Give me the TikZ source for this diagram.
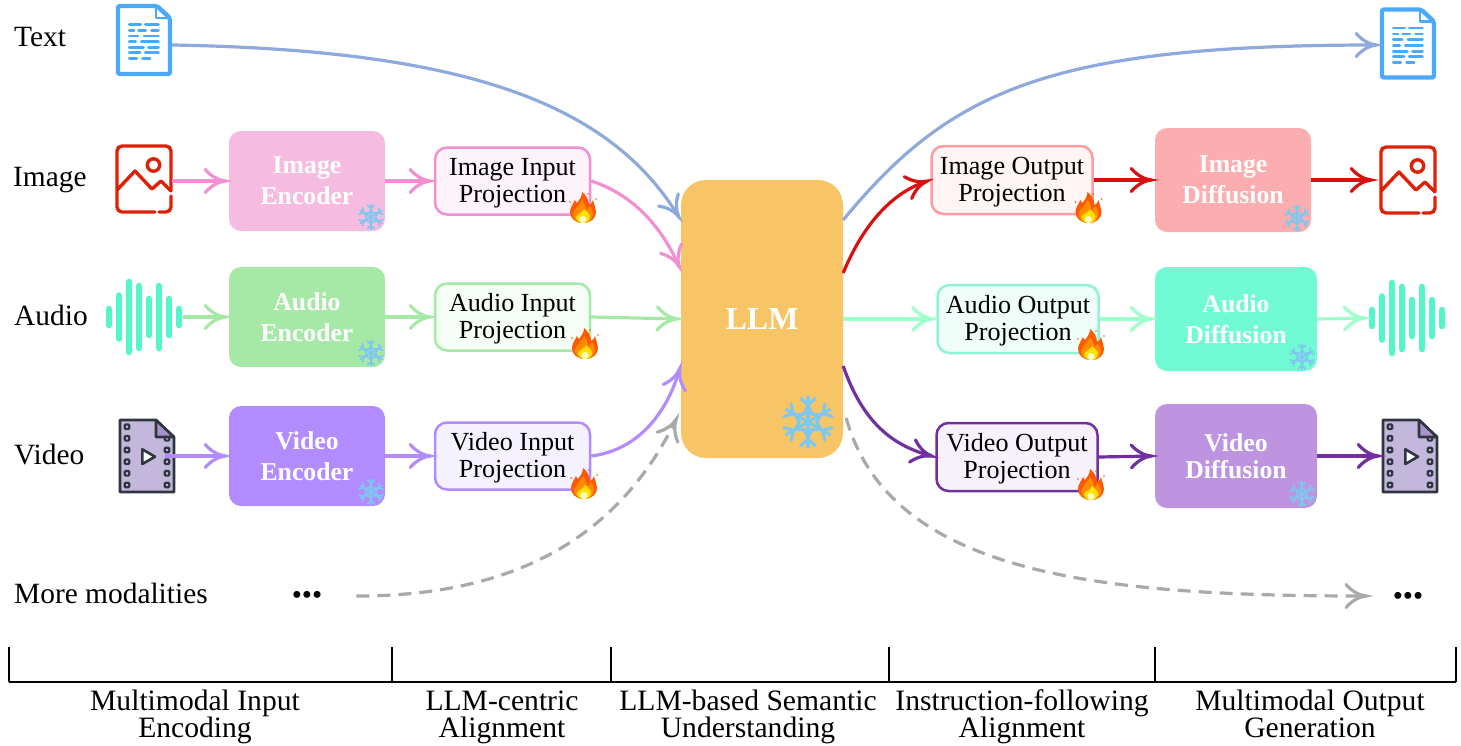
\documentclass[tikz,border=0pt]{standalone}
\usepackage{fontspec}
\setmainfont{Liberation Serif}
\usepackage{tikz}
\usetikzlibrary{arrows.meta}

\pgfdeclarearrow{
    name=HookBarb,
    setup code={
        \pgfarrowssettipend{2.5pt}
        \pgfarrowssetlineend{-2pt}
        \pgfarrowssetvisualtipend{2.5pt}
        \pgfarrowssetbackend{-22pt}
        \pgfarrowssetvisualbackend{-22pt}
        \pgfarrowshullpoint{0pt}{0pt}
        \pgfarrowshullpoint{-22pt}{12pt}
        \pgfarrowshullpoint{-22pt}{-12pt}
    },
    drawing code={
        \pgfsetdash{}{0pt}
        \pgfsetroundcap
        \pgfsetmiterjoin
        \pgfpathmoveto{\pgfpoint{-21pt}{11.5pt}}
        \pgfpathcurveto{\pgfpoint{-15pt}{4.5pt}}{\pgfpoint{-8pt}{0.8pt}}{\pgfpoint{-1pt}{0pt}}
        \pgfpathcurveto{\pgfpoint{-8pt}{-0.8pt}}{\pgfpoint{-15pt}{-4.5pt}}{\pgfpoint{-21pt}{-11.5pt}}
        \pgfusepathqstroke
    }
}

\definecolor{cImgEnc}{HTML}{F5BBE0}
\definecolor{cImgLine}{HTML}{F28FD3}
\definecolor{cImgSoft}{HTML}{FDF3FA}
\definecolor{cAudEnc}{HTML}{A6E9A6}
\definecolor{cAudSoft}{HTML}{F6FDF6}
\definecolor{cVidEnc}{HTML}{B28CFF}
\definecolor{cVidSoft}{HTML}{F6F1FF}
\definecolor{cImgDiff}{HTML}{FBADB0}
\definecolor{cImgOutLine}{HTML}{FF9A9E}
\definecolor{cImgOutSoft}{HTML}{FFF5F5}
\definecolor{cRed}{HTML}{D81010}
\definecolor{cAudDiff}{HTML}{70FBD5}
\definecolor{cAudOutLine}{HTML}{90F2D6}
\definecolor{cAudOutSoft}{HTML}{EFFEF8}
\definecolor{cAudArrow}{HTML}{9EFFCB}
\definecolor{cVidDiff}{HTML}{BE93E0}
\definecolor{cVidOutSoft}{HTML}{F6F1FB}
\definecolor{cPurple}{HTML}{7030A0}
\definecolor{cBlueLine}{HTML}{8EA9DB}
\definecolor{cLLM}{HTML}{F8C566}
\definecolor{cSnow}{HTML}{7FC7EE}
\definecolor{cGrayLine}{HTML}{A9A9A9}
\definecolor{cDoc}{HTML}{4BA9F9}
\definecolor{cImgIcon}{HTML}{DE2008}
\definecolor{cWave}{HTML}{55F5CC}
\definecolor{cFilm}{HTML}{C3B8DC}
\definecolor{cFilmFold}{HTML}{A692CC}
\definecolor{cFilmEdge}{HTML}{2F3640}

\begin{document}
\begin{tikzpicture}[
    x=1pt, y=-1pt,
    modlabel/.style={anchor=west, inner sep=0pt, text depth=0pt, font=\fontsize{29.4}{31}\selectfont},
    solidbox/.style={
        fill=#1,
        rounded corners=12pt,
        text=white,
        align=center,
        inner sep=0pt,
        font=\fontsize{25.7}{31}\selectfont\bfseries
    },
    projbox/.style 2 args={
        draw=#1,
        fill=#2,
        line width=2.5pt,
        rounded corners=12pt,
        align=center,
        inner sep=0pt,
        text depth=2pt,
        font=\fontsize{26.1}{27}\selectfont
    },
    iconbox/.style={inner sep=0pt, draw=none},
    caption/.style={align=center, inner sep=0pt, text depth=0pt, font=\fontsize{29.6}{27}\selectfont},
    flow/.style={
        -HookBarb,
        line width=3.2pt,
        draw=#1
    },
    bracket/.style={line width=2.6pt, black},
    pics/snowflake/.style={code={
        \begin{scope}[scale=#1, line width=#1*1.6pt, cSnow, line cap=round]
            \foreach \a in {30,90,...,330} {
                \begin{scope}[rotate=\a]
                    \draw (0,0) -- (12.5,0);
                    \draw (8.5,0) -- (11.8,3.6);
                    \draw (8.5,0) -- (11.8,-3.6);
                    \draw (7.6,0) -- (3.8,2.2) -- (3.8,6.6);
                \end{scope}
            }
        \end{scope}
    }},
    pics/fire/.style={code={
        \fill[orange!70!red] (0,15) .. controls (8,15) and (13,10) .. (13,4)
            .. controls (13,0) and (11,-3) .. (10,-8) .. controls (9,-5) and (8,-4) .. (6,-3)
            .. controls (6,-8) and (3,-13) .. (-1,-16) .. controls (-1,-11) and (-4,-8) .. (-6,-5)
            .. controls (-7,-6) and (-8,-7) .. (-8,-8) .. controls (-10,-4) and (-13,0) .. (-13,4)
            .. controls (-13,10) and (-8,15) .. (0,15) -- cycle;
        \fill[orange!90!yellow] (0,15) .. controls (6,15) and (10,11) .. (10,6)
            .. controls (10,3) and (8,0) .. (7,-2) .. controls (6,1) and (4,2) .. (3,2)
            .. controls (3,-2) and (1,-5) .. (-1,-8) .. controls (-2,-4) and (-9,1) .. (-10,6)
            .. controls (-10,11) and (-6,15) .. (0,15) -- cycle;
        \fill[yellow!85!orange] (0,15) .. controls (4,15) and (7,12) .. (7,9)
            .. controls (7,6) and (4,4) .. (1,1) .. controls (1,4) and (-6,6) .. (-7,9)
            .. controls (-7,12) and (-4,15) .. (0,15) -- cycle;
        \fill[yellow!25] (0,11.5) circle (3.6);
        \fill[orange!70!red] (-13,-6) circle (0.9) (13,-9) circle (0.9) (5,-14) circle (0.9);
    }},
    pics/docicon/.style={code={
        \draw[cDoc, line width=4.4pt, rounded corners=2pt, fill=white, line join=round]
            (-26,-34) -- (13,-34) -- (26,-22) -- (26,34) -- (-26,34) -- cycle;
        \draw[cDoc, line width=2.6pt, line join=round] (12,-33) -- (12,-22) -- (25,-22);
        \foreach \ry/\xa/\xb in {-15.7/-14.8/-3.2, -15.7/1.2/14.5,
            -9.7/-14.8/-9.9, -9.7/-5.5/1.8, -9.7/7.5/14.5,
            -4/-14.8/-5.9, -4/-0.1/14.5, 1.7/-14.8/-8.2, 1.7/-2.8/14.5,
            7.7/-14.8/-0.5, 7.7/4.5/14.5, 12.7/-14.8/-3.9, 12.7/1.2/14.5,
            18.7/-14.8/-7.2, 18.7/-1.5/6.1} {
            \draw[cDoc, line width=2.6pt, line cap=round] (\xa,\ry) -- (\xb,\ry);
        }
    }},
    pics/imageicon/.style={code={
        \draw[cImgIcon, line width=3.4pt, rounded corners=5pt, line cap=round]
            (11,33) -- (-27,33) -- (-27,-33) -- (27,-33) -- (27,12);
        \draw[cImgIcon, line width=3.4pt, rounded corners=5pt, line cap=round]
            (27,17) -- (27,33) -- (15,33);
        \draw[cImgIcon, line width=3.4pt, line join=round]
            (-27,11) -- (-9,-8) -- (8,10) -- (17,2) -- (27,12);
        \draw[cImgIcon, line width=3.4pt] (9.5,-14) circle (6.2);
    }},
    pics/waveicon/.style={code={
        \foreach \wx/\wh in {-35/8, -25/21.5, -15/35, -5/31, 5/18, 15/31, 25/18, 35/8} {
            \draw[cWave, line width=6.6pt, line cap=round] (\wx,-\wh) -- (\wx,\wh);
        }
    }},
    pics/videoicon/.style={code={
        \draw[cFilmEdge, fill=cFilm, line width=2.6pt, line join=round]
            (-27,-36) -- (9,-36) -- (27,-19) -- (27,36) -- (-27,36) -- cycle;
        \foreach \hy in {-29.3,-17.7,-6,5.7,17.3,29} {
            \draw[cFilmEdge, fill=cFilm, line width=2.2pt, rounded corners=1pt]
                (-22.3,\hy-2.3) rectangle (-17.7,\hy+2.3);
        }
        \foreach \hy in {-17.7,-6,5.7,17.3,29} {
            \draw[cFilmEdge, fill=cFilm, line width=2.2pt, rounded corners=1pt]
                (17.7,\hy-2.3) rectangle (22.3,\hy+2.3);
        }
        \draw[cFilmEdge, fill=cFilmFold, line width=2.6pt, line join=round]
            (9,-36) -- (9,-19) -- (27,-19) -- cycle;
        \draw[cFilmEdge, fill=white, line width=2.6pt, line join=round]
            (-4.7,-6.7) -- (8,0.7) -- (-4.7,8) -- cycle;
    }}
]
    \useasboundingbox (0,0) rectangle (1461,745);

    % Modality names on the left
    \node[modlabel] (ltext) at (14,37) {Text};
    \node[modlabel] (limage) at (13,177) {Image};
    \node[modlabel] (laudio) at (14,315) {Audio};
    \node[modlabel] (lvideo) at (14,454) {Video};
    \node[modlabel] (lmore) at (14,593) {More modalities};

    % Input icons
    \node[iconbox, minimum width=56pt, minimum height=72pt] (textin) at (144,40) {};
    \pic at (textin) {docicon};
    \node[iconbox, minimum width=56pt, minimum height=68pt] (imagein) at (144,179) {};
    \pic at (imagein) {imageicon};
    \node[iconbox, minimum width=78pt, minimum height=76pt] (audioin) at (144,317) {};
    \pic at (audioin) {waveicon};
    \node[iconbox, minimum width=56pt, minimum height=75pt] (videoin) at (147,456) {};
    \pic at (videoin) {videoicon};
    \node[iconbox, font=\fontsize{29}{29}\selectfont] (morein) at (307,598) {\textbullet\textbullet\textbullet};

    % Encoders
    \node[solidbox=cImgEnc, minimum width=156pt, minimum height=100pt] (imgenc) at (307,181) {Image\\Encoder};
    \node[solidbox=cAudEnc, minimum width=156pt, minimum height=100pt] (audenc) at (307,317) {Audio\\Encoder};
    \node[solidbox=cVidEnc, minimum width=156pt, minimum height=100pt] (videnc) at (307,456) {Video\\Encoder};

    % Input projections
    \node[projbox={cImgLine}{cImgSoft}, minimum width=155pt, minimum height=67pt] (imgin) at (512.5,181) {Image Input\\Projection};
    \node[projbox={cAudEnc}{cAudSoft}, minimum width=155pt, minimum height=67pt] (audin) at (512.5,317) {Audio Input\\Projection};
    \node[projbox={cVidEnc}{cVidSoft}, minimum width=155pt, minimum height=67pt] (vidin) at (512.5,456) {Video Input\\Projection};

    % Central model
    \node[fill=cLLM, rounded corners=25pt, text=white, inner sep=0pt,
        minimum width=162pt, minimum height=278pt,
        font=\fontsize{32}{34}\selectfont\bfseries] (llm) at (762,319) {LLM};

    % Output projections
    \node[projbox={cImgOutLine}{cImgOutSoft}, minimum width=161pt, minimum height=68pt] (imgout) at (1012,180) {Image Output\\Projection};
    \node[projbox={cAudOutLine}{cAudOutSoft}, minimum width=161pt, minimum height=68pt] (audout) at (1018,319) {Audio Output\\Projection};
    \node[projbox={cPurple}{cVidOutSoft}, minimum width=161pt, minimum height=68pt] (vidout) at (1017,457) {Video Output\\Projection};

    % Diffusion boxes
    \node[solidbox=cImgDiff, minimum width=156pt, minimum height=104pt] (imgdiff) at (1233,180) {Image\\Diffusion};
    \node[solidbox=cAudDiff, minimum width=162pt, minimum height=104pt] (auddiff) at (1236,319) {Audio\\Diffusion};
    \node[solidbox=cVidDiff, minimum width=162pt, minimum height=104pt,
        font=\fontsize{25.7}{27}\selectfont\bfseries] (viddiff) at (1236,456) {Video\\Diffusion};

    % Output icons
    \node[iconbox, minimum width=56pt, minimum height=72pt] (textout) at (1408,43.5) {};
    \pic at (textout) {docicon};
    \node[iconbox, minimum width=56pt, minimum height=68pt] (imageout) at (1408,180) {};
    \pic at (imageout) {imageicon};
    \node[iconbox, minimum width=78pt, minimum height=76pt] (audioout) at (1407,318) {};
    \pic at (audioout) {waveicon};
    \node[iconbox, minimum width=56pt, minimum height=75pt] (videoout) at (1410,456) {};
    \pic at (videoout) {videoicon};
    \node[iconbox, font=\fontsize{29}{29}\selectfont] (moreout) at (1408,599) {\textbullet\textbullet\textbullet};

    % Frozen and trainable marks
    \foreach \sx/\sy in {371/217, 371/353, 371/492, 1297/218, 1302/357, 1302/494} {
        \pic at (\sx,\sy) {snowflake=1};
    }
    \pic at (808,422) {snowflake=2};
    \foreach \fx/\fy in {583/208, 585/344, 584/484, 1088.5/208, 1091/345, 1091/485} {
        \pic at (\fx,\fy) {fire};
    }

    % Input side connectors
    \draw[flow=cImgLine] (imagein.east) ++(0,2) -- (imgenc.west);
    \draw[flow=cImgLine] (imgenc.east) -- (imgin.west);
    \draw[flow=cAudEnc] (audioin.east) -- (audenc.west);
    \draw[flow=cAudEnc] (audenc.east) -- (audin.west);
    \draw[flow=cVidEnc] ([xshift=-10pt]videoin.east) -- (videnc.west);
    \draw[flow=cVidEnc] (videnc.east) -- (vidin.west);
    \draw[flow=cBlueLine] ([yshift=-5pt]textin.east) .. controls (470,50) and (610,105) .. ([yshift=99pt]llm.west);
    \draw[flow=cImgLine] (imgin.east) .. controls (640,197) and (665,235) .. ([yshift=49pt]llm.west);
    \draw[flow=cAudEnc] (audin.east) -- (llm.west);
    \draw[flow=cVidEnc] (vidin.east) .. controls (640,450) and (668,410) .. ([yshift=-46pt]llm.west);
    \draw[flow=cGrayLine, dashed, dash pattern=on 13pt off 8pt] (morein.east) ++(34,-2) .. controls (490,596) and (610,555) .. ([xshift=-3pt,yshift=-97pt]llm.west);

    % Output side connectors
    \draw[flow=cBlueLine] ([yshift=99pt]llm.east) .. controls (950,90) and (1050,45) .. ([yshift=-1.5pt]textout.west);
    \draw[flow=cRed] ([yshift=46pt]llm.east) .. controls (865,220) and (895,192) .. (imgout.west);
    \draw[flow=cAudArrow] (llm.east) -- (audout.west);
    \draw[flow=cPurple] ([yshift=-47pt]llm.east) .. controls (862,420) and (890,445) .. (vidout.west);
    \draw[flow=cGrayLine, dashed, dash pattern=on 13pt off 8pt] ([xshift=3pt,yshift=-99pt]llm.east) .. controls (890,575) and (1100,596) .. ([xshift=-23pt,yshift=3pt]moreout.west);
    \draw[flow=cRed] (imgout.east) -- (imgdiff.west);
    \draw[flow=cRed] (imgdiff.east) -- ([xshift=-5pt]imageout.west);
    \draw[flow=cAudArrow] (audout.east) -- (auddiff.west);
    \draw[flow=cAudArrow] (auddiff.east) -- (audioout.west);
    \draw[flow=cPurple] (vidout.east) -- (viddiff.west);
    \draw[flow=cPurple] (viddiff.east) -- (videoout.west);

    % Stages along the bottom
    \draw[bracket] (9,682) -- (1456,682);
    \foreach \tx in {9,392,611,889,1155,1456} {
        \draw[bracket] (\tx,647) -- (\tx,682);
    }
    \node[caption] (stagea) at (195,714) {Multimodal Input\\Encoding};
    \node[caption] (stageb) at (502,714) {LLM-centric\\Alignment};
    \node[caption] (stagec) at (748,714) {LLM-based Semantic\\Understanding};
    \node[caption] (staged) at (1022,714) {Instruction-following\\Alignment};
    \node[caption] (stagee) at (1310,714) {Multimodal Output\\Generation};
\end{tikzpicture}
\end{document}
